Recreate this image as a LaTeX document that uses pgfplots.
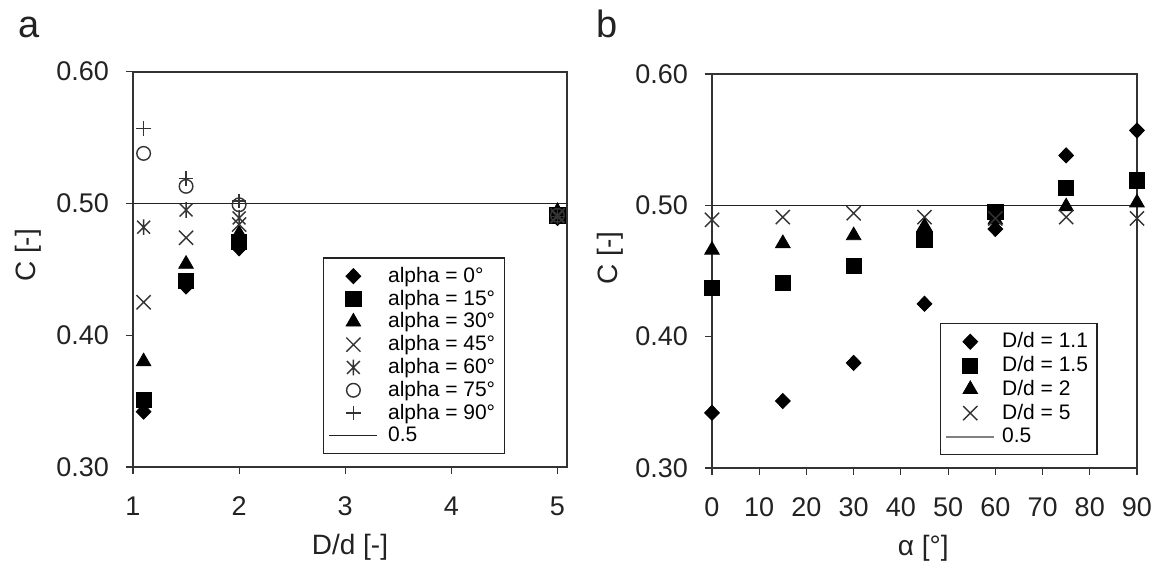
\documentclass[border=0pt]{standalone}
\usepackage{fontspec}
\setmainfont{Liberation Sans}
\usepackage{pgfplots}
\pgfplotsset{compat=1.18}
\definecolor{ink}{HTML}{222222}
\definecolor{axc}{HTML}{333333}
\pgfdeclareplotmark{xbar}{%
  \pgfpathmoveto{\pgfqpoint{-.7\pgfplotmarksize}{-.7\pgfplotmarksize}}%
  \pgfpathlineto{\pgfqpoint{.7\pgfplotmarksize}{.7\pgfplotmarksize}}%
  \pgfpathmoveto{\pgfqpoint{-.7\pgfplotmarksize}{.7\pgfplotmarksize}}%
  \pgfpathlineto{\pgfqpoint{.7\pgfplotmarksize}{-.7\pgfplotmarksize}}%
  \pgfpathmoveto{\pgfqpoint{0pt}{-.85\pgfplotmarksize}}%
  \pgfpathlineto{\pgfqpoint{0pt}{.85\pgfplotmarksize}}%
  \pgfusepathqstroke}
\pgfplotsset{
  common/.style={
    scale only axis,
    anchor=south west,
    ymin=0.30, ymax=0.60,
    ytick={0.30,0.40,0.50,0.60},
    tick align=outside,
    xtick pos=bottom, ytick pos=left,
    major tick length=3.5pt,
    every tick/.style={axc, line width=0.6pt},
    axis line style={axc, line width=1.1pt},
    /pgf/number format/assume math mode=true,
    yticklabel style={xshift=-5pt, /pgf/number format/fixed, /pgf/number format/fixed zerofill, /pgf/number format/precision=2},
    tick label style={font=\fontsize{13.5}{15}\selectfont, text=ink},
    xticklabel style={yshift=-8pt},
    label style={font=\fontsize{14}{16}\selectfont, text=ink},
    legend style={draw=ink, line width=0.6pt, fill=white, font=\fontsize{10.5}{12}\selectfont,
      cells={anchor=west}, inner sep=2.5pt, row sep=-1.7pt, column sep=3pt},
    legend image code/.code={\draw[mark repeat=2,mark phase=2,##1] plot coordinates {(0cm,0cm) (0.42cm,0cm) (0.84cm,0cm)};},
  },
  mk/.style={only marks,
    legend image code/.code={\draw[mark repeat=2,mark phase=2,##1] plot coordinates {(0cm,0cm) (0.42cm,0cm) (0.84cm,0cm)};}},
  sdia/.style={mk, mark=diamond*, mark size=3.8pt, mark options={xscale=1.3, fill=black, draw=black, line width=0.4pt}},
  ssq/.style={mk, mark=square*, mark size=3.8pt, mark options={fill=black, draw=black, line width=0.4pt}},
  stri/.style={mk, mark=triangle*, mark size=4.2pt, mark options={fill=black, draw=black, line width=0.4pt}},
  sx/.style={mk, mark=x, mark size=5pt, mark options={draw=axc, line width=0.7pt}},
  sast/.style={mk, mark=xbar, mark size=4.6pt, mark options={draw=axc, line width=0.7pt}},
  scirc/.style={mk, mark=o, mark size=3.4pt, mark options={draw=axc, line width=0.7pt}},
  splus/.style={mk, mark=+, mark size=3.6pt, mark options={draw=axc, line width=0.7pt}},
}
\begin{document}
\begin{tikzpicture}
\useasboundingbox (0,0) rectangle (579pt,282.5pt);
\node[anchor=base west, font=\fontsize{19}{21}\selectfont, text=ink] at (5.5pt,263.5pt) {a};
\node[anchor=base west, font=\fontsize{19}{21}\selectfont, text=ink] at (294.5pt,263.5pt) {b};
% ---------- panel a
\begin{axis}[common,
  at={(66.5pt,49pt)}, width=217pt, height=197.65pt,
  xmin=1, xmax=5.09, xtick={1,2,3,4,5},
  xlabel={D/d [-]}, ylabel={C [-]},
  xlabel style={at={(axis description cs:0.5,-0.222)}, anchor=base},
  ylabel style={at={(axis description cs:-0.242,0.535)}, anchor=center},
  legend style={at={(0.438,0.53)}, anchor=north west},
]
\addplot[sdia]  coordinates {(1.1,0.342) (1.5,0.437) (2,0.466) (5,0.489)};
\addlegendentry{alpha = 0°}
\addplot[ssq]   coordinates {(1.1,0.351) (1.5,0.441) (2,0.471) (5,0.491)};
\addlegendentry{alpha = 15°}
\addplot[stri]  coordinates {(1.1,0.380) (1.5,0.454) (2,0.477) (5,0.494)};
\addlegendentry{alpha = 30°}
\addplot[sx]    coordinates {(1.1,0.425) (1.5,0.474) (2,0.484) (5,0.491)};
\addlegendentry{alpha = 45°}
\addplot[sast]  coordinates {(1.1,0.482) (1.5,0.495) (2,0.489) (5,0.490)};
\addlegendentry{alpha = 60°}
\addplot[scirc] coordinates {(1.1,0.538) (1.5,0.513) (2,0.499) (5,0.491)};
\addlegendentry{alpha = 75°}
\addplot[splus] coordinates {(1.1,0.557) (1.5,0.519) (2,0.502) (5,0.490)};
\addlegendentry{alpha = 90°}
\addplot[ink, line width=0.8pt] coordinates {(1,0.5) (5.09,0.5)};
\addlegendentry{0.5}
\end{axis}
% ---------- panel b
\begin{axis}[common,
  at={(356pt,48.5pt)}, width=212.5pt, height=197pt,
  xmin=0, xmax=90, xtick={0,10,...,90},
  xlabel={α [°]}, ylabel={C [-]},
  xlabel style={at={(axis description cs:0.497,-0.221)}, anchor=base},
  ylabel style={at={(axis description cs:-0.24,0.533)}, anchor=center},
  legend style={at={(0.536,0.368)}, anchor=north west, row sep=-1.2pt, column sep=1.5pt,
    /tikz/every even column/.style={column sep=6pt}},
]
\addplot[sdia] coordinates {(0,0.342) (15,0.351) (30,0.380) (45,0.425) (60,0.482) (75,0.538) (90,0.557)};
\addlegendentry{D/d = 1.1}
\addplot[ssq]  coordinates {(0,0.437) (15,0.441) (30,0.454) (45,0.474) (60,0.495) (75,0.513) (90,0.519)};
\addlegendentry{D/d = 1.5}
\addplot[stri] coordinates {(0,0.466) (15,0.471) (30,0.477) (45,0.484) (60,0.489) (75,0.499) (90,0.502)};
\addlegendentry{D/d = 2}
\addplot[sx]   coordinates {(0,0.489) (15,0.491) (30,0.494) (45,0.491) (60,0.490) (75,0.491) (90,0.490)};
\addlegendentry{D/d = 5}
\addplot[ink, line width=0.8pt, forget plot] coordinates {(0,0.5) (90,0.5)};
\addlegendimage{gray, line width=1pt}
\addlegendentry{0.5}
\end{axis}
\end{tikzpicture}
\end{document}
